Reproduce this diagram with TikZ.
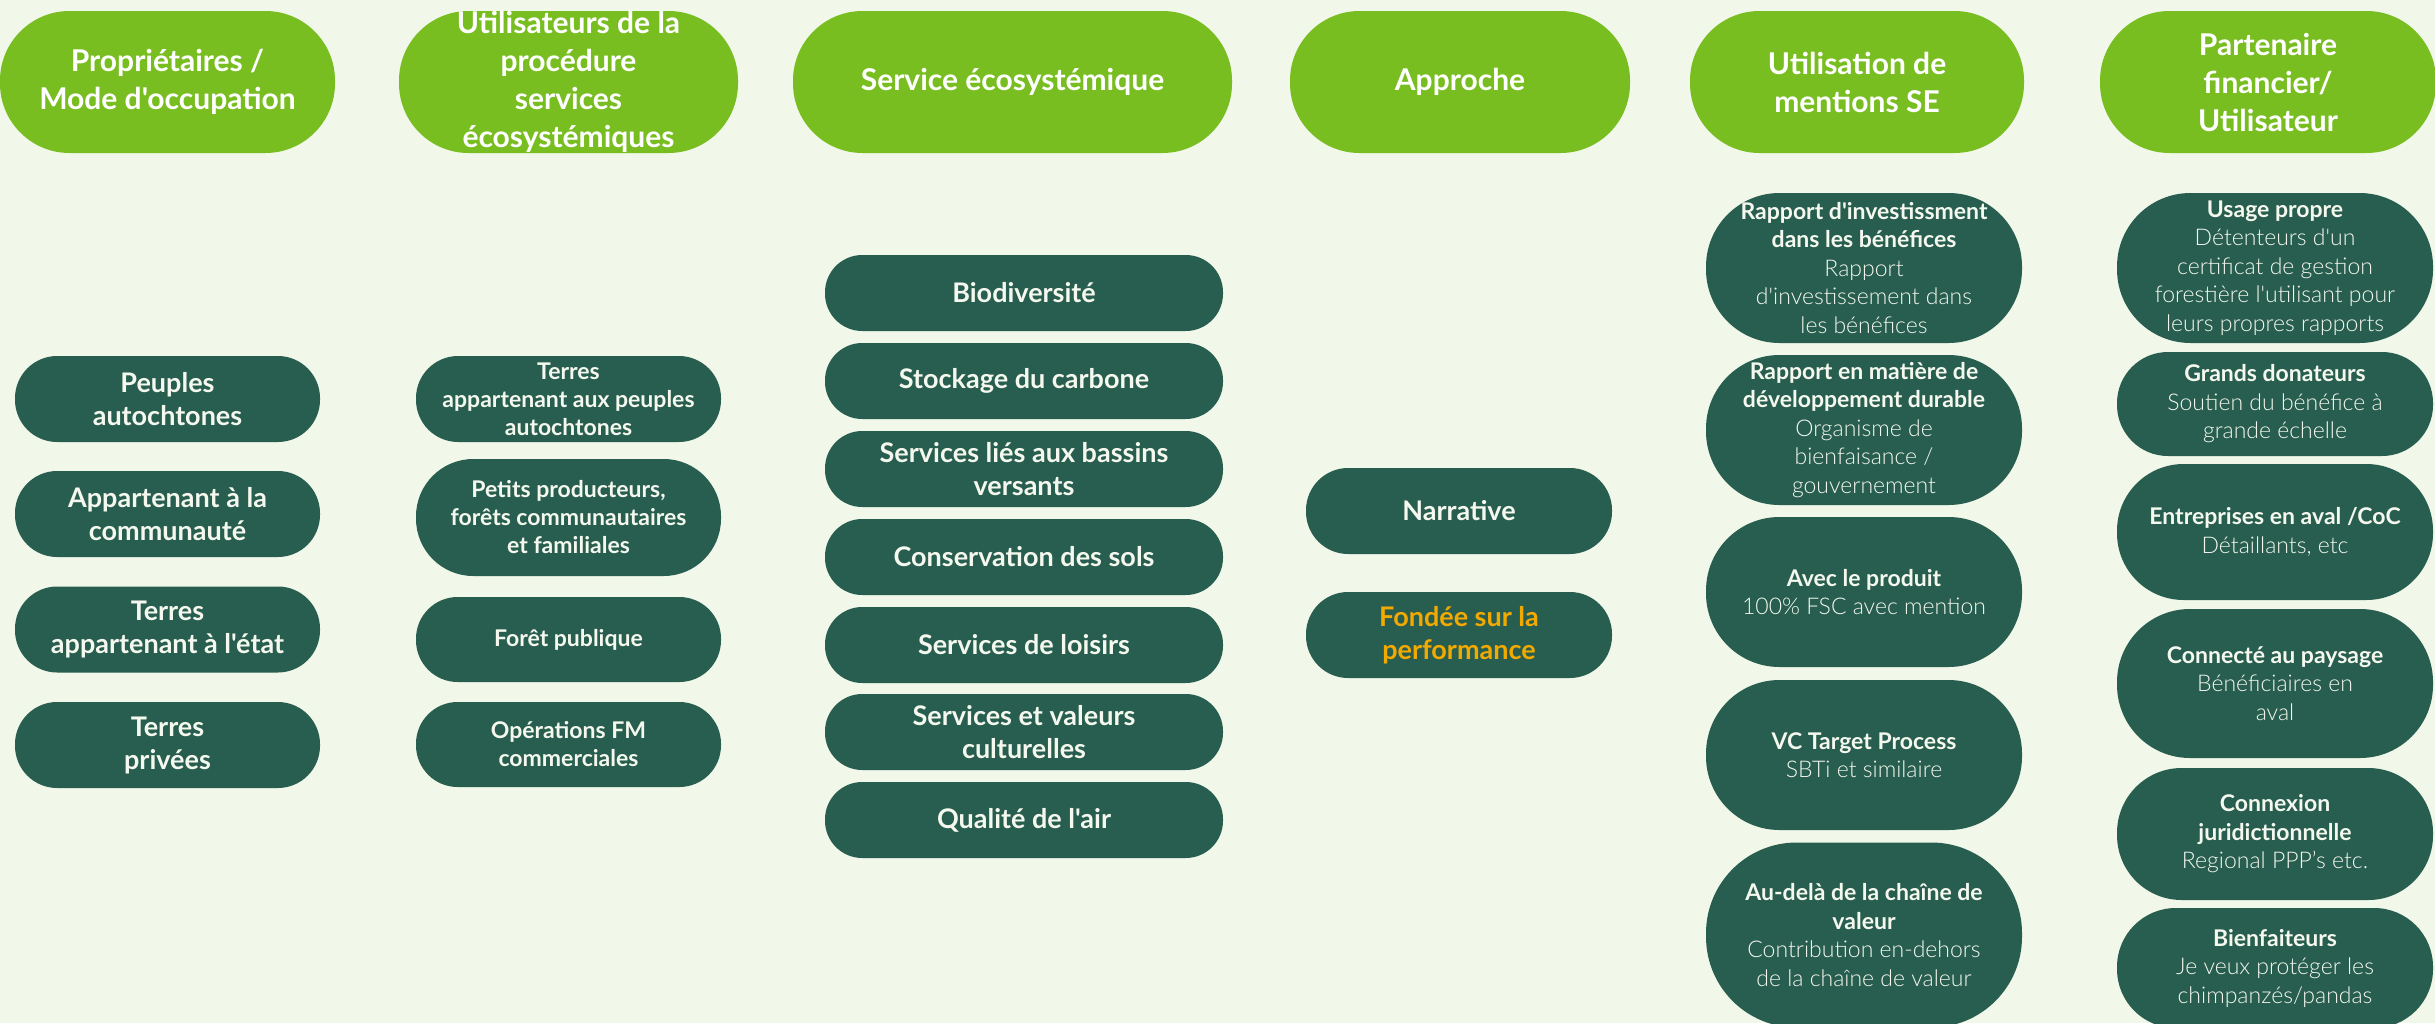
\documentclass[tikz,border=0pt]{standalone}
\usepackage{fontspec}
\setmainfont{Lato}[Ligatures=TeXOff]
\newfontfamily\lightfont{Lato Light}
\definecolor{bg}{HTML}{F1F7E9}
\definecolor{lime}{HTML}{78BE21}
\definecolor{dark}{HTML}{285E4F}
\definecolor{orangetxt}{HTML}{F2A900}
\definecolor{cream}{HTML}{F4F8EE}
\tikzset{
  pill/.style 2 args={shape=rectangle, minimum width=#1pt, minimum height=#2pt,
    rounded corners=#2*0.49pt, inner sep=0pt, align=center},
  headbox/.style 2 args={pill={#1}{#2}, fill=lime, text=white,
    font=\fontsize{30}{38}\selectfont\bfseries},
  bodybox/.style 2 args={pill={#1}{#2}, fill=dark, text=cream,
    font=\fontsize{27}{33}\selectfont\bfseries},
  smallbox/.style 2 args={pill={#1}{#2}, fill=dark, text=cream,
    font=\fontsize{23}{28}\selectfont\bfseries},
  descbox/.style 2 args={pill={#1}{#2}, fill=dark, text=cream,
    font=\fontsize{23}{28.5}\selectfont\lightfont},
}
\newcommand{\ttl}[1]{{\fontspec{Lato}\bfseries #1}}
\begin{document}
\begin{tikzpicture}[x=1pt,y=-1pt]
\useasboundingbox (0,0) rectangle (2435,1023);
\fill[bg] (0,0) rectangle (2435,1023);
\clip (0,0) rectangle (2435,1023);

% headers
\node[headbox={335}{142}] (h1) at (167.5,82) {Propriétaires /\\Mode d'occupation};
\node[headbox={339}{142}, inner ysep=-12pt] (h2) at (568.5,82) {Utilisateurs de la\\procédure\\services\\écosystémiques};
\node[headbox={439}{142}] (h3) at (1012.5,82) {Service écosystémique};
\node[headbox={340}{142}] (h4) at (1460,82) {Approche};
\node[headbox={334}{142}] (h5) at (1857,82) {Utilisation de\\mentions SE};
\node[headbox={336}{142}] (h6) at (2268,82) {Partenaire\\financier/\\Utilisateur};

% column 1
\node[bodybox={305}{86}] (c1a) at (167.5,399) {Peuples\\autochtones};
\node[bodybox={305}{86}] (c1b) at (167.5,514) {Appartenant à la\\communauté};
\node[bodybox={305}{86}] (c1c) at (167.5,629.5) {Terres\\appartenant à l'état};
\node[bodybox={305}{86}] (c1d) at (167.5,745) {Terres\\privées};

% column 2
\node[smallbox={305}{86}] (c2a) at (568.5,399) {Terres\\appartenant aux peuples\\autochtones};
\node[smallbox={305}{117}] (c2b) at (568.5,517.5) {Petits producteurs,\\forêts communautaires\\et familiales};
\node[smallbox={305}{85}] (c2c) at (568.5,639.5) {Forêt publique};
\node[smallbox={305}{85}] (c2d) at (568.5,744.5) {Opérations FM\\commerciales};

% column 3
\node[bodybox={398}{76}] (c3a) at (1024,293) {Biodiversité};
\node[bodybox={398}{76}] (c3b) at (1024,381) {Stockage du carbone};
\node[bodybox={398}{76}] (c3c) at (1024,469) {Services liés aux bassins\\versants};
\node[bodybox={398}{76}] (c3d) at (1024,557) {Conservation des sols};
\node[bodybox={398}{76}] (c3e) at (1024,645) {Services de loisirs};
\node[bodybox={398}{76}] (c3f) at (1024,732) {Services et valeurs\\culturelles};
\node[bodybox={398}{76}] (c3g) at (1024,820) {Qualité de l'air};

% column 4
\node[bodybox={306}{86}] (c4a) at (1459,511) {Narrative};
\node[bodybox={306}{86}, text=orangetxt] (c4b) at (1459,635) {Fondée sur la\\performance};

% column 5
\node[descbox={316}{150}] (c5a) at (1864,268) {\ttl{Rapport d'investissment}\\\ttl{dans les bénéfices}\\Rapport\\d'investissement dans\\les bénéfices};
\node[descbox={316}{150}] (c5b) at (1864,430) {\ttl{Rapport en matière de}\\\ttl{développement durable}\\Organisme de\\bienfaisance /\\gouvernement};
\node[descbox={316}{150}] (c5c) at (1864,592) {\ttl{Avec le produit}\\100\% FSC avec mention};
\node[descbox={316}{150}] (c5d) at (1864,755) {\ttl{VC Target Process}\\SBTi et similaire};
\node[descbox={316}{185}] (c5e) at (1864,935) {\ttl{Au-delà de la chaîne de}\\\ttl{valeur}\\Contribution en-dehors\\de la chaîne de valeur};

% column 6
\node[descbox={316}{150}] (c6a) at (2275,268) {\ttl{Usage propre}\\Détenteurs d'un\\certificat de gestion\\forestière l'utilisant pour\\leurs propres rapports};
\node[descbox={316}{104}] (c6b) at (2275,404) {\ttl{Grands donateurs}\\Soutien du bénéfice à\\grande échelle};
\node[descbox={316}{136}] (c6c) at (2275,532) {\ttl{Entreprises en aval /CoC}\\Détaillants, etc};
\node[descbox={316}{149}] (c6d) at (2275,683.5) {\ttl{Connecté au paysage}\\Bénéficiaires en\\aval};
\node[descbox={316}{132}] (c6e) at (2275,834) {\ttl{Connexion}\\\ttl{juridictionnelle}\\Regional PPP’s etc.};
\node[descbox={316}{120}] (c6f) at (2275,968) {\ttl{Bienfaiteurs}\\Je veux protéger les\\chimpanzés/pandas};
\end{tikzpicture}
\end{document}
